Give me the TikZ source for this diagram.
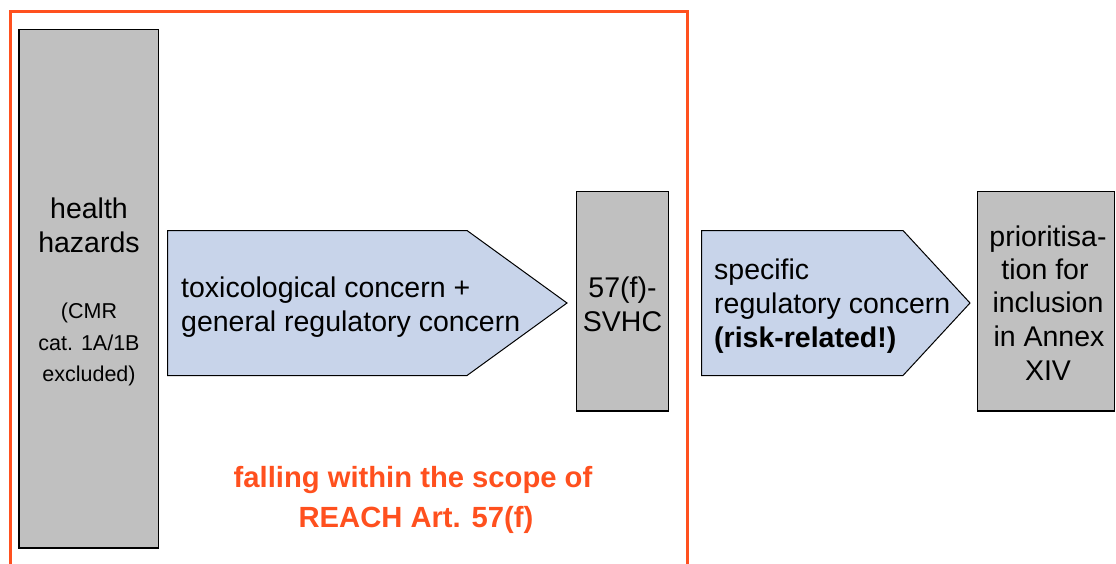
\documentclass[tikz,border=0pt]{standalone}
\usepackage{fontspec}
\setmainfont{Liberation Sans}
\definecolor{boxgrey}{RGB}{192,192,192}
\definecolor{arrowblue}{RGB}{200,212,234}
\definecolor{reachorange}{RGB}{255,80,30}
\begin{document}
\begin{tikzpicture}[x=1pt,y=-1pt,
  greybox/.style={draw=black, line width=1.3pt, fill=boxgrey},
  bluearrow/.style={draw=black, line width=1pt, fill=arrowblue},
  big/.style={font=\fontsize{28.5}{34}\selectfont, inner sep=0pt, anchor=base},
  small/.style={font=\fontsize{21.5}{31}\selectfont, inner sep=0pt, anchor=base},
  orangetext/.style={font=\fontsize{29.2}{40}\selectfont\bfseries, text=reachorange, inner sep=0pt, anchor=base}]
\useasboundingbox (0,0) rectangle (1116,563);
% frame
\draw[reachorange, line width=3pt] (10.5,575) -- (10.5,11.5) -- (687.5,11.5) -- (687.5,575);
% boxes
\draw[greybox] (19,29.5) rectangle (158.5,548);
\draw[greybox] (576.5,191.5) rectangle (668.5,411);
\draw[greybox] (977.5,191.5) rectangle (1114.5,411);
% arrows
\draw[bluearrow] (167.5,230.5) -- (467,230.5) -- (567,303) -- (467,375.5) -- (167.5,375.5) -- cycle;
\draw[bluearrow] (701.5,230.5) -- (903,230.5) -- (970,303) -- (903,375.5) -- (701.5,375.5) -- cycle;
% box 1 text
\node[big] (h1) at (89,218) {health};
\node[big] (h2) at (89,252) {hazards};
\node[small] (c1) at (89,318) {(CMR};
\node[small] (c2) at (89,350) {cat. 1A/1B};
\node[small] (c3) at (89,381) {excluded)};
% arrow 1 text
\node[big, anchor=base west] (t1) at (181,297) {toxicological concern +};
\node[big, anchor=base west] (t2) at (181,331) {general regulatory concern};
% svhc
\node[big] (s1) at (622.5,297) {57(f)-};
\node[big] (s2) at (622.5,331) {SVHC};
% arrow 2 text
\node[big, anchor=base west] (r1) at (714,279) {specific};
\node[big, anchor=base west] (r2) at (714,313) {regulatory concern};
\node[big, anchor=base west, font=\fontsize{28.5}{34}\selectfont\bfseries] (r3) at (714,347) {(risk-related!)};
% prioritisation
\node[big] (p1) at (1048,246) {prioritisa-};
\node[big] (p2) at (1045,279) {tion for};
\node[big] (p3) at (1048,312) {inclusion};
\node[big] (p4) at (1049,346) {in Annex};
\node[big] (p5) at (1048,380) {XIV};
% orange text
\node[orangetext] (o1) at (413,487) {falling within the scope of};
\node[orangetext] (o2) at (416,527) {REACH Art. 57(f)};
\end{tikzpicture}
\end{document}
